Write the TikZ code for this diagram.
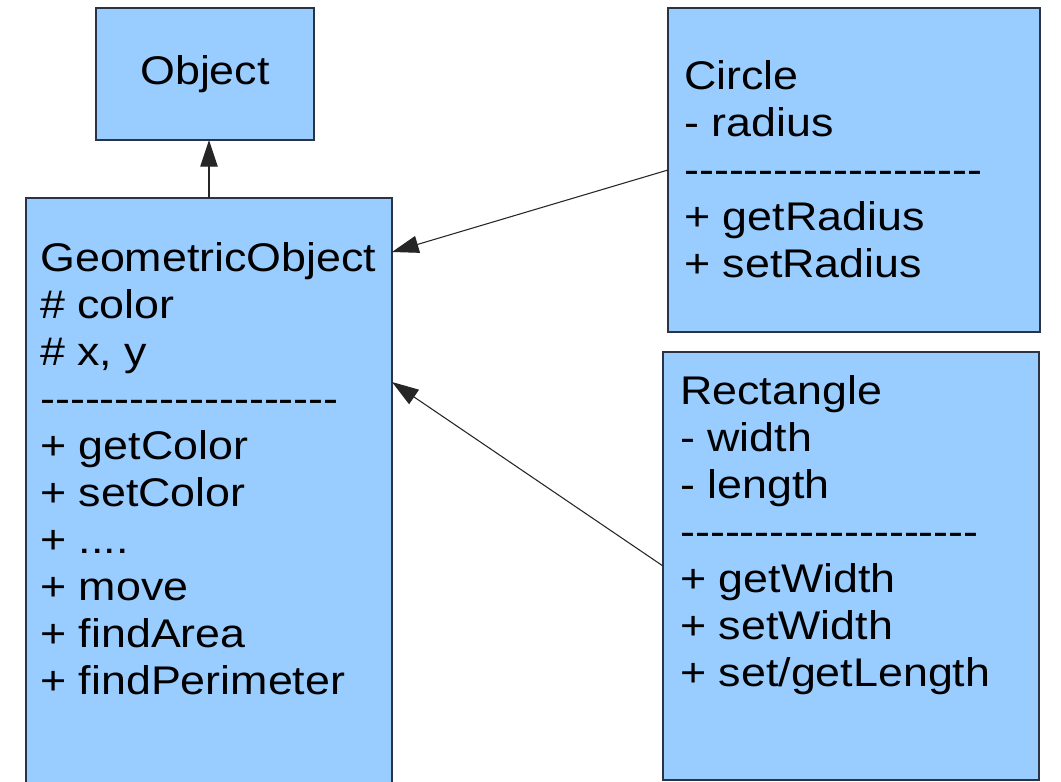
\documentclass[tikz,border=0pt]{standalone}
\usepackage{fontspec}
\newfontfamily\umlfont[FakeStretch=1.12]{Liberation Sans}
\usetikzlibrary{arrows.meta}
\definecolor{boxfill}{HTML}{99CCFF}
\definecolor{boxline}{HTML}{2B3347}

\begin{document}
\begin{tikzpicture}
  [x=0.75pt, y=-0.75pt,
   -{Triangle[length=20pt,width=13pt]},
   classbox/.style={draw=boxline, fill=boxfill, line width=1.1pt,
     inner sep=0pt, outer sep=0pt, anchor=north west,
     font=\umlfont\fontsize{30}{35.25}\selectfont},
   classtext/.style={font=\umlfont\fontsize{30}{35.25}\selectfont,
     align=left, inner sep=0pt, anchor=base west},
   inherit/.style={line width=0.8pt, draw=black!85}]

  \useasboundingbox[fill=white] (0,0) rectangle (1061,782);
  \clip (0,0) rectangle (1061,782);

  % Caixas das classes
  \node[classbox, minimum width=163.5pt, minimum height=99pt] (object) at (96,8) {Object};
  \node[classbox, minimum width=274.5pt, minimum height=481.5pt] (geo) at (26,198) {};
  \node[classbox, minimum width=279pt, minimum height=243pt] (circle) at (668,8) {};
  \node[classbox, minimum width=282pt, minimum height=321pt] (rect) at (663,352) {};

  % Textos das classes (posicionados pela ultima linha)
  \node[classtext] (geotext) at (40,694) {GeometricObject\\\# color\\\# x, y\\--------------------\\+ getColor\\+ setColor\\+ ....\\+ move\\+ findArea\\+ findPerimeter};
  \node[classtext] (circletext) at (684,277) {Circle\\- radius\\--------------------\\+ getRadius\\+ setRadius};
  \node[classtext] (recttext) at (680,686) {Rectangle\\- width\\- length\\--------------------\\+ getWidth\\+ setWidth\\+ set/getLength};

  % Heranca
  \draw[inherit] (geo.north) -- (geo.north |- object.south);
  \draw[inherit] (circle.west) -- ([yshift=-40.5pt]geo.north east);
  \draw[inherit] (rect.west) -- ([yshift=-138pt]geo.north east);
\end{tikzpicture}
\end{document}
